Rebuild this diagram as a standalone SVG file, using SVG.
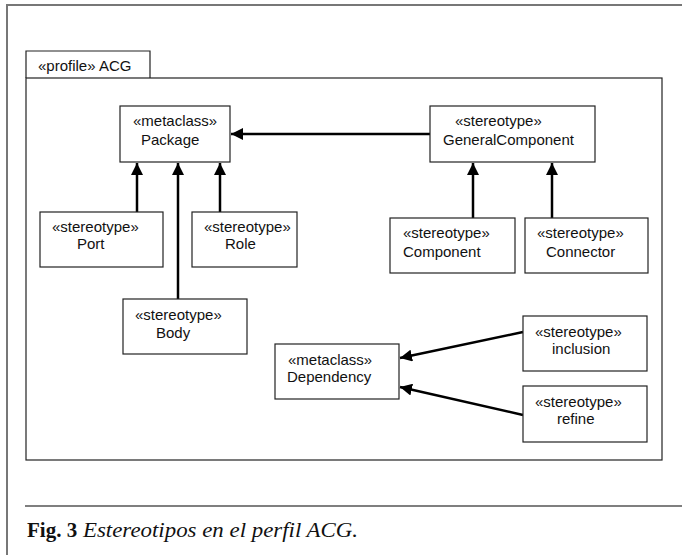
<svg xmlns="http://www.w3.org/2000/svg" width="682" height="555" viewBox="0 0 682 555">
<style>
.box{fill:#fff;stroke:#222;stroke-width:1.2}
.t{font-family:"Liberation Sans",Arial,sans-serif;font-size:15px;fill:#111}
.c{stroke:#000;stroke-width:2.5;fill:none;marker-end:url(#ah)}
.cap{font-family:"Liberation Serif","Times New Roman",serif;fill:#111}
</style>
<defs>
<marker id="ah" markerUnits="userSpaceOnUse" viewBox="0 0 12 12" refX="12" refY="6" markerWidth="12" markerHeight="12" orient="auto">
<path d="M0,0 L12,6 L0,12 Z" fill="#000"/>
</marker>
</defs>
<rect width="682" height="555" fill="#fff"/>
<path d="M7,555 V5 H682" fill="none" stroke="#777" stroke-width="2"/>
<g id="profile">
<path class="box" d="M26,78 V51 H150 V78"/>
<rect class="box" x="26" y="78" width="636" height="382" fill="none"/>
<text class="t" x="38" y="71">«profile» ACG</text>
</g>
<g id="connectors">
<line class="c" x1="430" y1="134" x2="231" y2="134"/>
<line class="c" x1="137" y1="212" x2="137" y2="163"/>
<line class="c" x1="178" y1="299" x2="178" y2="163"/>
<line class="c" x1="220" y1="212" x2="220" y2="163"/>
<line class="c" x1="473" y1="218" x2="473" y2="163"/>
<line class="c" x1="552" y1="218" x2="552" y2="163"/>
<line class="c" x1="523" y1="332" x2="400" y2="358"/>
<line class="c" x1="523" y1="415" x2="400" y2="387"/>
</g>
<g id="package">
<rect class="box" x="120" y="106" width="110" height="56"/>
<text class="t" x="133" y="126">«metaclass»</text>
<text class="t" x="141" y="145">Package</text>
</g>
<g id="generalcomponent">
<rect class="box" x="430" y="106" width="165" height="56"/>
<text class="t" x="455" y="126">«stereotype»</text>
<text class="t" x="443" y="145">GeneralComponent</text>
</g>
<g id="port">
<rect class="box" x="40" y="212" width="123" height="55"/>
<text class="t" x="52" y="232">«stereotype»</text>
<text class="t" x="77" y="249">Port</text>
</g>
<g id="role">
<rect class="box" x="192" y="212" width="105" height="55"/>
<text class="t" x="204" y="232">«stereotype»</text>
<text class="t" x="225" y="249">Role</text>
</g>
<g id="body">
<rect class="box" x="123" y="299" width="124" height="55"/>
<text class="t" x="135" y="320">«stereotype»</text>
<text class="t" x="156" y="338">Body</text>
</g>
<g id="component">
<rect class="box" x="390" y="218" width="125" height="55"/>
<text class="t" x="403" y="238">«stereotype»</text>
<text class="t" x="403" y="257">Component</text>
</g>
<g id="connector">
<rect class="box" x="525" y="218" width="123" height="55"/>
<text class="t" x="537" y="238">«stereotype»</text>
<text class="t" x="546" y="257">Connector</text>
</g>
<g id="dependency">
<rect class="box" x="275" y="344" width="124" height="55"/>
<text class="t" x="288" y="365">«metaclass»</text>
<text class="t" x="287" y="382">Dependency</text>
</g>
<g id="inclusion">
<rect class="box" x="523" y="316" width="124" height="55"/>
<text class="t" x="535" y="337">«stereotype»</text>
<text class="t" x="552" y="354">inclusion</text>
</g>
<g id="refine">
<rect class="box" x="523" y="386" width="124" height="56"/>
<text class="t" x="535" y="407">«stereotype»</text>
<text class="t" x="557" y="424">refine</text>
</g>
<g id="caption">
<line x1="25" y1="506" x2="682" y2="506" stroke="#000" stroke-width="1.2"/>
<text class="cap" x="27" y="537" font-size="21" font-weight="bold">Fig. 3</text>
<text class="cap" x="83" y="537" font-size="22" font-style="italic" textLength="275" lengthAdjust="spacingAndGlyphs">Estereotipos en el perfil ACG.</text>
</g>
</svg>
